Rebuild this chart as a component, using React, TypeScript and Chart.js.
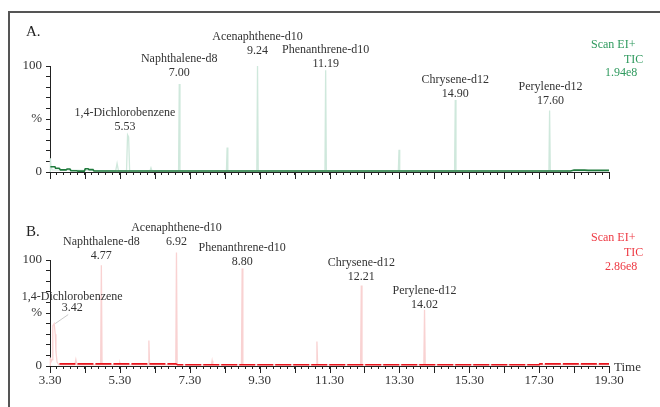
import React, { useEffect, useRef } from "react";
import { Chart, registerables } from "chart.js";
Chart.register(...registerables);

const FONT = "'Liberation Serif', 'Times New Roman', Times, serif";

// ---- data ----
const timeTickLabels = ["3.30", "5.30", "7.30", "9.30", "11.30", "13.30", "15.30", "17.30", "19.30"];

const compoundNames = [
  "1,4-Dichlorobenzene",
  "Naphthalene-d8",
  "Acenaphthene-d10",
  "Phenanthrene-d10",
  "Chrysene-d12",
  "Perylene-d12",
];
const retentionTextA = ["5.53", "7.00", "9.24", "11.19", "14.90", "17.60"];
const retentionTextB = ["3.42", "4.77", "6.92", "8.80", "12.21", "14.02"];

// Panel A trace (time, %)
const traceA: number[][] = [
  [3.30, 0], [3.31, 13], [3.33, 5], [3.36, 2],
  [5.18, 1], [5.22, 8], [5.26, 1],
  [5.49, 1], [5.52, 35], [5.55, 33], [5.58, 1],
  [6.16, 1], [6.19, 4], [6.22, 1],
  [6.98, 1], [7.00, 83], [7.02, 1],
  [8.35, 1], [8.37, 23], [8.39, 1],
  [9.22, 1], [9.24, 100], [9.26, 1],
  [11.17, 1], [11.19, 96], [11.21, 1],
  [13.27, 1], [13.29, 21], [13.31, 1],
  [14.88, 1], [14.90, 68], [14.92, 1],
  [17.58, 1], [17.60, 58], [17.62, 1],
  [19.30, 1],
];
const baselineA: number[][] = [
  [3.31, 5], [3.44, 5], [3.46, 3.5], [3.56, 3.5], [3.60, 2], [3.76, 2], [3.79, 2.8], [3.87, 2.8],
  [3.90, 1.2], [4.07, 1.2], [4.10, 0.8], [4.28, 0.8], [4.31, 3], [4.39, 3], [4.42, 2.2], [4.53, 2.2],
  [4.56, 1], [18.20, 1], [18.30, 1.8], [18.60, 1.8], [18.70, 1.5], [19.30, 1.5],
];

// Panel B trace (time, %)
const traceB: number[][] = [
  [3.30, 0], [3.31, 8], [3.33, 4], [3.36, 6], [3.38, 38], [3.42, 40], [3.45, 30], [3.47, 14], [3.50, 4], [3.55, 1],
  [4.01, 1], [4.04, 6], [4.07, 1],
  [4.75, 1], [4.77, 95], [4.79, 1],
  [5.28, 1], [5.30, 3], [5.32, 1],
  [6.11, 1], [6.13, 24], [6.15, 1],
  [6.90, 1], [6.92, 107], [6.94, 1],
  [7.92, 1], [7.94, 5], [7.96, 1],
  [8.78, 1], [8.80, 92], [8.82, 1],
  [10.92, 1], [10.94, 23], [10.96, 1],
  [12.19, 1], [12.21, 76], [12.23, 1],
  [14.00, 1], [14.02, 53], [14.04, 1],
  [19.30, 1],
];
const baselineB: number[][] = [
  [3.57, 2], [6.90, 2], [6.95, 1.2], [17.30, 1.2], [17.32, 2], [19.30, 2],
];

const scanTextA = ["Scan EI+", "TIC", "1.94e8"];
const scanTextB = ["Scan EI+", "TIC", "2.86e8"];

// label anchor levels (in % units) and horizontal shifts
const labelLevelA = [42.5, 93.4, 114, 102, 73.6, 67];
const labelLevelB = [54.7, 103.8, 117, 98, 84, 57.5];
const labelShiftA = [-3, 0, 0, 0, 0, 1];
const labelShiftB = [18, 0, 0, 0, 0, 0];

type PanelCfg = {
  top: number;
  height: number;
  areaTop: number;
  areaBottom: number;
  letter: string;
  trace: number[][];
  baseline: number[][];
  paleColor: string;
  darkColor: string;
  textColor: string;
  scanText: string[];
  scanY: number[];
  times: string[];
  levels: number[];
  shifts: number[];
  showTimeLabels: boolean;
  leader: boolean;
  baseDash: number[];
};

const scanX = [591, 624, 605];

function Panel({ cfg }: { cfg: PanelCfg }) {
  const ref = useRef<HTMLCanvasElement>(null);
  useEffect(() => {
    const overlay = {
      id: "overlay" + cfg.letter,
      afterDraw(chart: any) {
        const ctx = chart.ctx as CanvasRenderingContext2D;
        const xs = chart.scales.x;
        const ys = chart.scales.y;
        const area = chart.chartArea;
        ctx.save();
        // major x ticks (every minute)
        ctx.strokeStyle = "#222";
        ctx.lineWidth = 1;
        for (let t = 3.3; t <= 19.31; t += 1) {
          const px = Math.round(xs.getPixelForValue(t)) + 0.5;
          ctx.beginPath();
          ctx.moveTo(px, area.bottom);
          ctx.lineTo(px, area.bottom + 7);
          ctx.stroke();
        }
        // panel letter
        ctx.fillStyle = "#222";
        ctx.font = `15px ${FONT}`;
        ctx.textAlign = "left";
        ctx.textBaseline = "middle";
        ctx.fillText(cfg.letter, 26, 32);
        // scan text
        ctx.fillStyle = cfg.textColor;
        ctx.font = `12px ${FONT}`;
        cfg.scanText.forEach((s, i) => ctx.fillText(s, scanX[i], cfg.scanY[i]));
        // peak labels
        ctx.fillStyle = "#333";
        ctx.textAlign = "center";
        compoundNames.forEach((name, i) => {
          const t = parseFloat(cfg.times[i]);
          const px = xs.getPixelForValue(t) + cfg.shifts[i];
          const py = ys.getPixelForValue(cfg.levels[i]);
          const gap = cfg.leader && i === 0 ? 11 : 14;
          ctx.fillText(name, px, py - gap);
          ctx.fillText(cfg.times[i], px, py);
        });
        if (cfg.leader) {
          const t = parseFloat(cfg.times[0]);
          const px = xs.getPixelForValue(t);
          const py = ys.getPixelForValue(40);
          ctx.strokeStyle = "#c8c8c8";
          ctx.beginPath();
          ctx.moveTo(px + 1, py);
          ctx.lineTo(px + 14, py - 9);
          ctx.stroke();
        }
        if (cfg.showTimeLabels) {
          ctx.fillStyle = "#333";
          ctx.font = `13px ${FONT}`;
          ctx.textAlign = "left";
          ctx.fillText("Time", 614, area.bottom + 2);
        }
        ctx.restore();
      },
    };

    const chart = new Chart(ref.current as HTMLCanvasElement, {
      type: "line",
      data: {
        datasets: [
          {
            data: cfg.baseline.map(([x, y]) => ({ x, y })),
            borderColor: cfg.darkColor,
            borderWidth: 1.6,
            borderDash: cfg.baseDash,
            pointRadius: 0,
            tension: 0,
            clip: false as any,
          },
          {
            data: cfg.trace.map(([x, y]) => ({ x, y })),
            borderColor: cfg.paleColor,
            borderWidth: 1.3,
            pointRadius: 0,
            tension: 0,
            clip: false as any,
          },
        ],
      },
      options: {
        animation: false,
        responsive: false,
        events: [],
        layout: { padding: { left: 0, top: cfg.areaTop, right: 51, bottom: 0 } },
        plugins: { legend: { display: false }, tooltip: { enabled: false } },
        scales: {
          x: {
            type: "linear",
            min: 3.3,
            max: 19.3,
            afterBuildTicks: (s: any) => {
              const ticks = [];
              for (let i = 0; i <= 80; i++) ticks.push({ value: Math.round((3.3 + i * 0.2) * 100) / 100 });
              s.ticks = ticks;
            },
            afterFit: (s: any) => {
              s.height = cfg.height - cfg.areaBottom;
            },
            grid: { display: true, drawOnChartArea: false, drawTicks: true, tickLength: 3, color: "#222", lineWidth: 1 },
            border: { display: true, color: "#222", width: 1 },
            ticks: {
              autoSkip: false,
              maxRotation: 0,
              minRotation: 0,
              padding: 4,
              color: "#333",
              font: { family: FONT, size: 13 },
              callback: (v: any) => {
                if (!cfg.showTimeLabels) return "";
                const l = timeTickLabels.find((s) => Math.abs(parseFloat(s) - Number(v)) < 1e-6);
                return l ?? "";
              },
            },
          },
          y: {
            type: "linear",
            min: 0,
            max: 100,
            afterBuildTicks: (s: any) => {
              const ticks = [];
              for (let i = 0; i <= 10; i++) ticks.push({ value: i * 10 });
              s.ticks = ticks;
            },
            afterFit: (s: any) => {
              s.width = 50;
            },
            grid: { display: true, drawOnChartArea: false, drawTicks: true, tickLength: 4, color: "#222", lineWidth: 1 },
            border: { display: true, color: "#222", width: 1 },
            ticks: {
              autoSkip: false,
              padding: 4,
              color: "#333",
              font: { family: FONT, size: 13 },
              callback: (v: any) => (v === 0 ? "0" : v === 50 ? "%" : v === 100 ? "100" : ""),
            },
          },
        },
      } as any,
      plugins: [overlay],
    });
    return () => chart.destroy();
  }, []);
  return (
    <canvas
      ref={ref}
      width={660}
      height={cfg.height}
      style={{ position: "absolute", left: 0, top: cfg.top, width: 660, height: cfg.height }}
    />
  );
}

const panelA: PanelCfg = {
  top: 0,
  height: 200,
  areaTop: 66,
  areaBottom: 172,
  letter: "A.",
  trace: traceA,
  baseline: baselineA,
  paleColor: "#cfe8dc",
  darkColor: "#1f7a3c",
  textColor: "#2f9a5e",
  scanText: scanTextA,
  scanY: [45, 60, 73],
  times: retentionTextA,
  levels: labelLevelA,
  shifts: labelShiftA,
  showTimeLabels: false,
  leader: false,
  baseDash: [],
};

const panelB: PanelCfg = {
  top: 200,
  height: 207,
  areaTop: 60,
  areaBottom: 166,
  letter: "B.",
  trace: traceB,
  baseline: baselineB,
  paleColor: "#f9d2d2",
  darkColor: "#e8141c",
  textColor: "#ee3a44",
  scanText: scanTextB,
  scanY: [38, 53, 67],
  times: retentionTextB,
  levels: labelLevelB,
  shifts: labelShiftB,
  showTimeLabels: true,
  leader: true,
  baseDash: [16, 2],
};

export default function App() {
  return (
    <div style={{ position: "fixed", left: 0, top: 0, width: 660, height: 407, background: "#fff", overflow: "hidden" }}>
      <Panel cfg={panelA} />
      <Panel cfg={panelB} />
      <div
        style={{
          position: "absolute",
          left: 8,
          top: 11,
          width: 700,
          height: 450,
          borderTop: "2px solid #555",
          borderLeft: "2px solid #555",
          pointerEvents: "none",
        }}
      />
    </div>
  );
}
